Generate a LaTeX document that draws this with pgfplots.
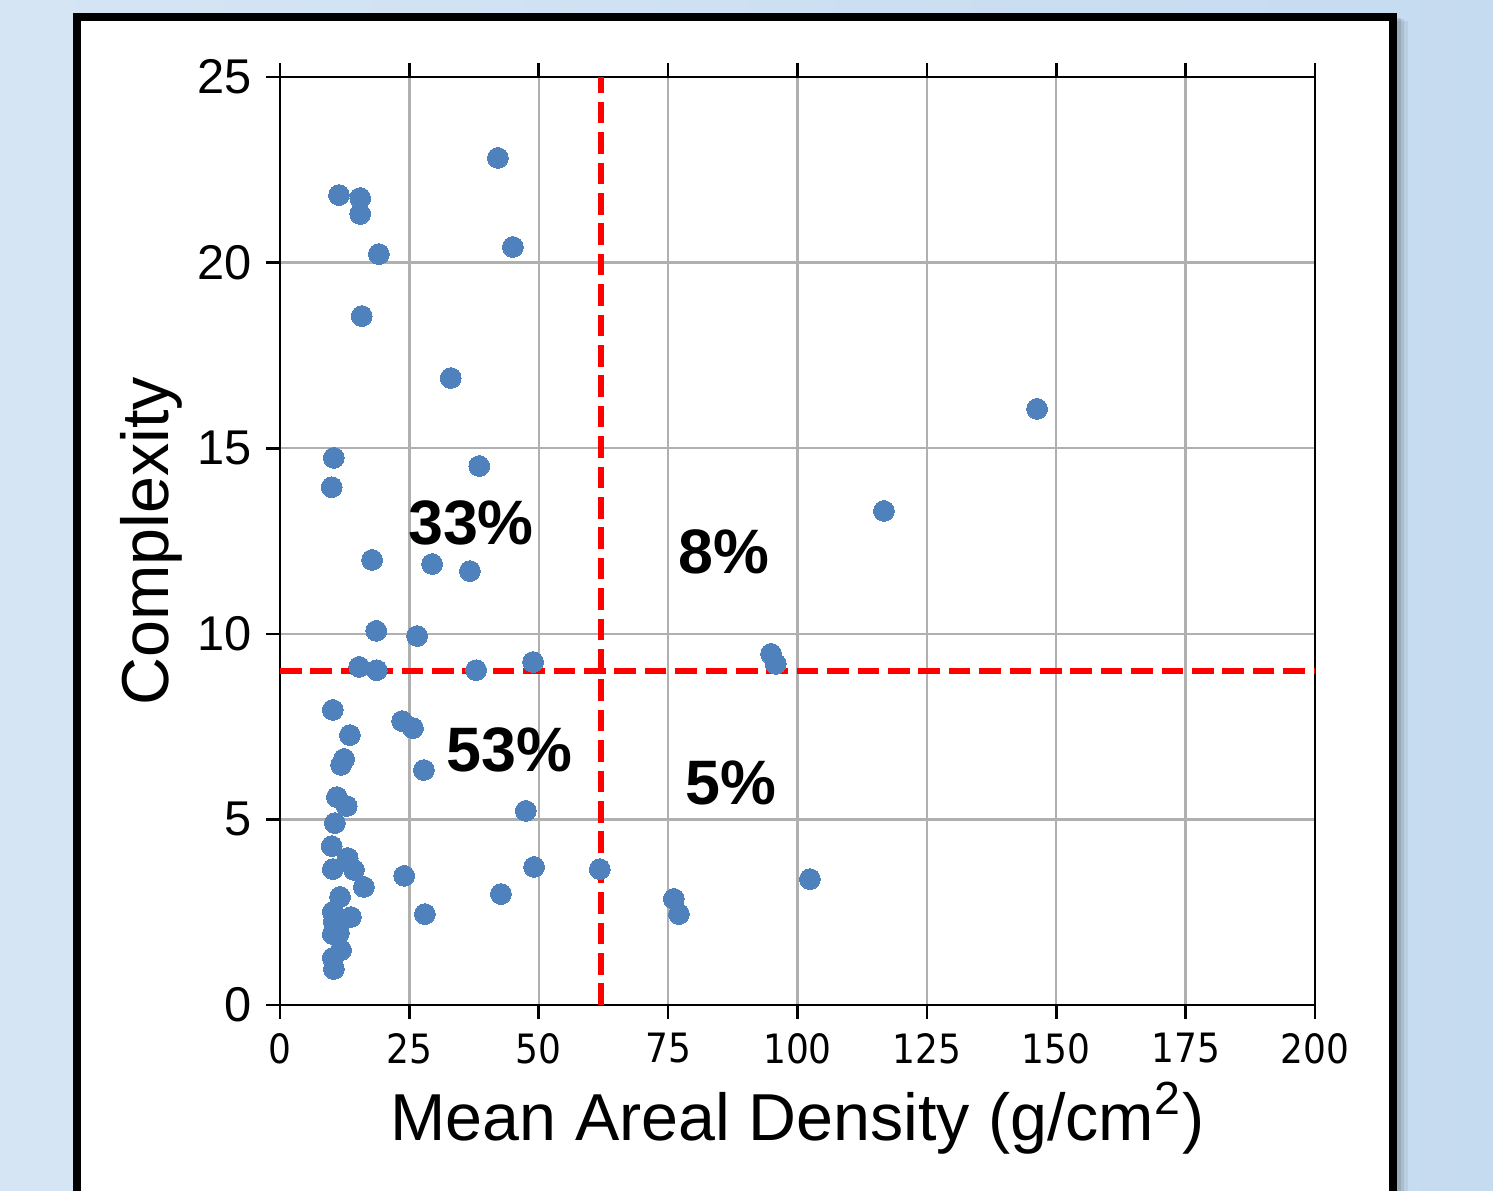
\documentclass[border=0pt]{standalone}
\usepackage{fontspec}
\setmainfont{Liberation Sans}
\newfontfamily\dejavu[FakeStretch=0.89]{DejaVu Sans}
\usepackage{pgfplots}
\usepackage{pgfplotstable}
\pgfplotsset{compat=1.18}

\definecolor{bgleft}{RGB}{214,229,244}
\definecolor{bgright}{RGB}{197,219,240}
\definecolor{ptblue}{RGB}{79,129,189}
\definecolor{gridgray}{RGB}{176,176,176}

% mean areal density (g/cm^2) vs complexity
\pgfplotstableread{
x y
42.1 22.82
11.4 21.82
15.5 21.74
15.5 21.31
19.1 20.23
45.0 20.42
15.8 18.56
33.0 16.89
146.3 16.06
10.4 14.74
38.5 14.52
10.0 13.95
116.7 13.31
17.8 11.99
29.4 11.88
36.7 11.69
18.6 10.08
26.5 9.94
15.3 9.11
18.7 9.02
37.9 9.02
48.9 9.24
94.9 9.46
95.8 9.19
10.2 7.95
23.6 7.65
25.7 7.46
13.5 7.27
11.8 6.47
12.4 6.63
27.8 6.33
11.0 5.60
12.9 5.36
47.5 5.23
10.6 4.90
10.0 4.28
13.1 3.96
10.2 3.66
14.3 3.64
61.8 3.66
49.1 3.72
24.0 3.48
16.2 3.18
11.6 2.91
42.7 2.99
76.1 2.86
102.4 3.39
10.2 2.51
13.7 2.37
28.0 2.45
77.1 2.45
10.4 2.24
11.4 1.94
10.2 1.91
11.8 1.48
10.2 1.27
10.4 0.97
}\pts

\begin{document}
\begin{tikzpicture}
\useasboundingbox (-70pt,-46.5pt) rectangle (303.25pt,251.25pt);
\clip (-70pt,-46.5pt) rectangle (303.25pt,251.25pt);
\fill[left color=bgleft, right color=bgright] (-70pt,-46.5pt) rectangle (303.25pt,251.25pt);
% panel shadow
\fill[black, opacity=0.06] (-50pt,-60pt) rectangle (282pt,246pt);
\fill[black, opacity=0.08] (-50pt,-60pt) rectangle (281pt,246.5pt);
\fill[black, opacity=0.10] (-50pt,-60pt) rectangle (280.2pt,246.8pt);
% white panel
\draw[line width=2pt, fill=white] (-50.75pt,-60pt) rectangle (278.25pt,247pt);

\begin{axis}[
  width=258.75pt, height=232pt, scale only axis,
  xmin=0, xmax=200, ymin=0, ymax=25,
  xtick={0,25,...,200}, ytick={0,5,...,25},
  tick align=outside, xtick pos=both, ytick pos=left,
  major tick length=3.5pt,
  major tick style={black, line width=0.65pt},
  axis line style={line width=0.65pt},
  grid=major,
  major grid style={gridgray, line width=0.6pt},
  /pgf/number format/assume math mode=true,
  x tick label style={font=\dejavu\fontsize{10.1}{12}\selectfont},
  y tick label style={font=\fontsize{12.2}{14}\selectfont},
  xlabel={Mean Areal Density (g/cm\textsuperscript{2})},
  ylabel={Complexity},
  xlabel style={font=\fontsize{16.6}{19}\selectfont, at={(axis description cs:0.5,-0.1455)}, anchor=base},
  ylabel style={font=\fontsize{16.6}{19}\selectfont, at={(axis description cs:-0.108,0.5)}, anchor=base},
  clip=false,
]
\addplot[red, line width=1.45pt, dash pattern=on 5.4pt off 2.2pt] coordinates {(62,0) (62,25)};
\addplot[red, line width=1.45pt, dash pattern=on 5.4pt off 2.2pt] coordinates {(0,9) (200,9)};
\addplot[only marks, ptblue, mark=*, mark size=2.6pt, mark options={fill=ptblue, draw=ptblue, line width=0pt}] table {\pts};
\node[font=\bfseries\fontsize{15.7}{18}\selectfont] at (axis cs:36.9,13.0) {33\%};
\node[font=\bfseries\fontsize{15.7}{18}\selectfont] at (axis cs:85.8,12.2) {8\%};
\node[font=\bfseries\fontsize{15.7}{18}\selectfont] at (axis cs:44.4,6.87) {53\%};
\node[font=\bfseries\fontsize{15.7}{18}\selectfont] at (axis cs:87.1,5.98) {5\%};
\end{axis}
\end{tikzpicture}
\end{document}
